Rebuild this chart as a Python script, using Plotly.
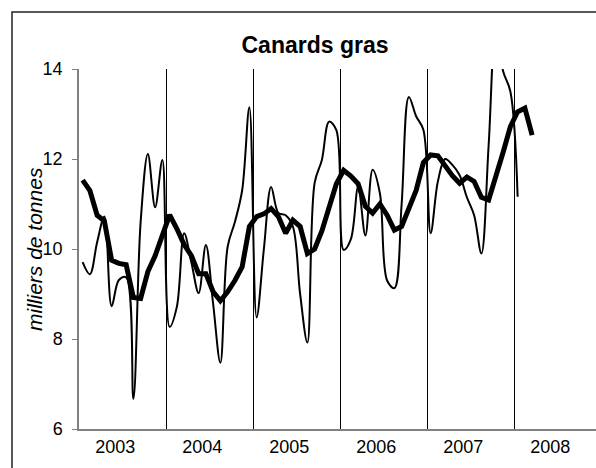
import plotly.graph_objects as go

# ---- data (month index 0 = January 2003) ----
years = ["2003", "2004", "2005", "2006", "2007", "2008"]

# thin line: monthly raw values (Jan 2003 .. Jan 2008)
brut_2003 = [9.71, 9.44, 10.15, 10.72, 8.73, 9.31, 9.37, 6.67, 10.6, 12.11, 10.93, 11.98]
brut_2004 = [8.27, 8.72, 10.35, 9.7, 9.02, 10.09, 8.78, 7.47, 10.05, 10.6, 11.3, 13.15]
brut_2005 = [8.48, 10.0, 11.38, 10.8, 10.75, 10.5, 9.0, 7.92, 11.47, 11.98, 12.83, 12.64]
brut_2006 = [9.98, 10.22, 11.38, 10.3, 11.76, 11.24, 9.3, 9.13, 11.0, 13.38, 12.95, 12.65]
brut_2007 = [10.35, 11.5, 12.0, 11.87, 11.64, 11.15, 10.75, 9.9, 12.3, 14.95, 13.95, 13.5]
brut_2008 = [11.16]

# thick line: trend (Jan 2003 .. Mar 2008)
tend_2003 = [11.53, 11.3, 10.75, 10.62, 9.75, 9.68, 9.65, 8.92, 8.9, 9.5, 9.85, 10.3]
tend_2004 = [10.76, 10.45, 10.1, 9.85, 9.45, 9.45, 9.05, 8.85, 9.05, 9.3, 9.6, 10.5]
tend_2005 = [10.72, 10.78, 10.9, 10.72, 10.35, 10.64, 10.5, 9.9, 10.0, 10.4, 10.95, 11.45]
tend_2006 = [11.75, 11.62, 11.45, 10.95, 10.8, 11.0, 10.75, 10.42, 10.5, 10.9, 11.3, 11.92]
tend_2007 = [12.09, 12.07, 11.85, 11.63, 11.46, 11.6, 11.5, 11.15, 11.09, 11.6, 12.15, 12.72]
tend_2008 = [13.05, 13.13, 12.53]

brut = brut_2003 + brut_2004 + brut_2005 + brut_2006 + brut_2007 + brut_2008
tendance = tend_2003 + tend_2004 + tend_2005 + tend_2006 + tend_2007 + tend_2008

x_brut = list(range(len(brut)))
x_tend = list(range(len(tendance)))

FONT = "Arial, Liberation Sans, sans-serif"

fig = go.Figure()
fig.add_trace(go.Scatter(
    x=x_brut, y=brut, mode="lines",
    line=dict(color="black", width=2, shape="spline", smoothing=1.0),
    showlegend=False, hoverinfo="skip"))
fig.add_trace(go.Scatter(
    x=x_tend, y=tendance, mode="lines",
    line=dict(color="black", width=5),
    showlegend=False, hoverinfo="skip"))

W, H = 596, 468
ML, MR, MT, MB = 79, 0, 69, 39
pw = W - ML - MR
ph = H - MT - MB
px_per_month = 87 / 12.0

fig.update_layout(
    width=W, height=H,
    margin=dict(l=ML, r=MR, t=MT, b=MB, pad=0),
    paper_bgcolor="white", plot_bgcolor="white",
    font=dict(family=FONT, color="black", size=18),
    title=dict(text="<b>Canards gras</b>", x=315 / W,
               xanchor="center", y=1 - 45 / H, yanchor="middle",
               font=dict(family=FONT, size=23, color="black")),
    xaxis=dict(
        range=[-0.5, -0.5 + pw / px_per_month],
        tickmode="array",
        tickvals=[12 * i + 4.5 for i in range(len(years))],
        ticktext=years,
        ticks="", showgrid=False, zeroline=False,
        showline=True, linecolor="#808080", linewidth=1.5,
        tickfont=dict(family=FONT, size=18, color="black"),
        ticklabelstandoff=1,
        minor=dict(tickmode="linear", tick0=-0.5, dtick=12, showgrid=True,
                   gridcolor="black", gridwidth=1, ticks=""),
    ),
    yaxis=dict(
        range=[6, 14], tickmode="linear", tick0=6, dtick=2,
        ticks="outside", ticklen=5, tickcolor="#808080", tickwidth=1,
        showgrid=False, zeroline=False,
        showline=True, linecolor="#808080", linewidth=1.5,
        tickfont=dict(family=FONT, size=18, color="black"),
        ticklabelstandoff=6,
    ),
    annotations=[dict(
        text="<i>milliers de tonnes</i>", textangle=-90,
        xref="paper", yref="paper", x=(34 - ML) / pw, y=0.5,
        xanchor="center", yanchor="middle", showarrow=False,
        font=dict(family=FONT, size=21, color="black"))],
    shapes=[dict(
        type="rect", xref="paper", yref="paper",
        x0=(12 - ML) / pw, x1=1.2, y0=-0.3, y1=(H - MB - 12) / ph,
        line=dict(color="#222222", width=1.5), fillcolor="rgba(0,0,0,0)",
        layer="above")],
)

fig.write_html(
    "out.html",
    config={"displayModeBar": False},
    post_script="document.body.style.margin='0';document.body.style.overflow='hidden';",
)
